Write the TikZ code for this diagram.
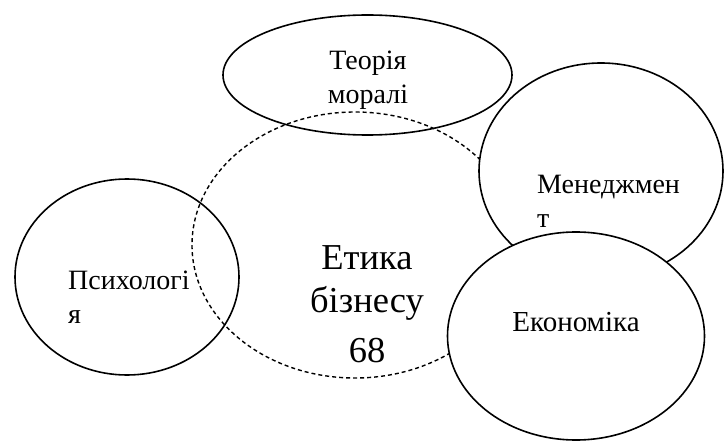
\documentclass[tikz,border=0pt]{standalone}
\usepackage{fontspec}
\setmainfont{Liberation Serif}

\begin{document}
\begin{tikzpicture}[x=1pt, y=-1pt,
    field/.style={draw=black, line width=1.6pt},
    core/.style={draw=black, line width=1.4pt, dash pattern=on 4pt off 3pt},
    lbl/.style={inner sep=0pt, font=\fontsize{28}{33.5}\selectfont}]

\useasboundingbox (0,0) rectangle (725,441);

\draw[field] (127,277) ellipse [x radius=112, y radius=98];
\draw[field] (367.5,75) ellipse [x radius=144.5, y radius=60];
\draw[core] (355,245) ellipse [x radius=163, y radius=133];
\filldraw[field, fill=white] (601,171) ellipse [x radius=122, y radius=108];
\filldraw[field, fill=white] (576,336) ellipse [x radius=128.5, y radius=104];

% base anchor of a multi-line node = baseline of its last line
\node[lbl, align=center, anchor=base] (moral) at (368,103) {Теорія\\моралі};
\node[lbl, align=left, anchor=base west] (psych) at (68,323) {Психологі\\я};
\node[lbl, align=left, anchor=base west] (manag) at (537,227) {Менеджмен\\т};
\node[lbl, anchor=base, font=\fontsize{29}{34}\selectfont] (econ) at (576,331) {Економіка};
\node[inner sep=0pt, align=center, anchor=base, font=\fontsize{36.5}{43}\selectfont]
    (ethics) at (367,362) {Етика\\бізнесу\\[7pt]68};

\end{tikzpicture}
\end{document}
